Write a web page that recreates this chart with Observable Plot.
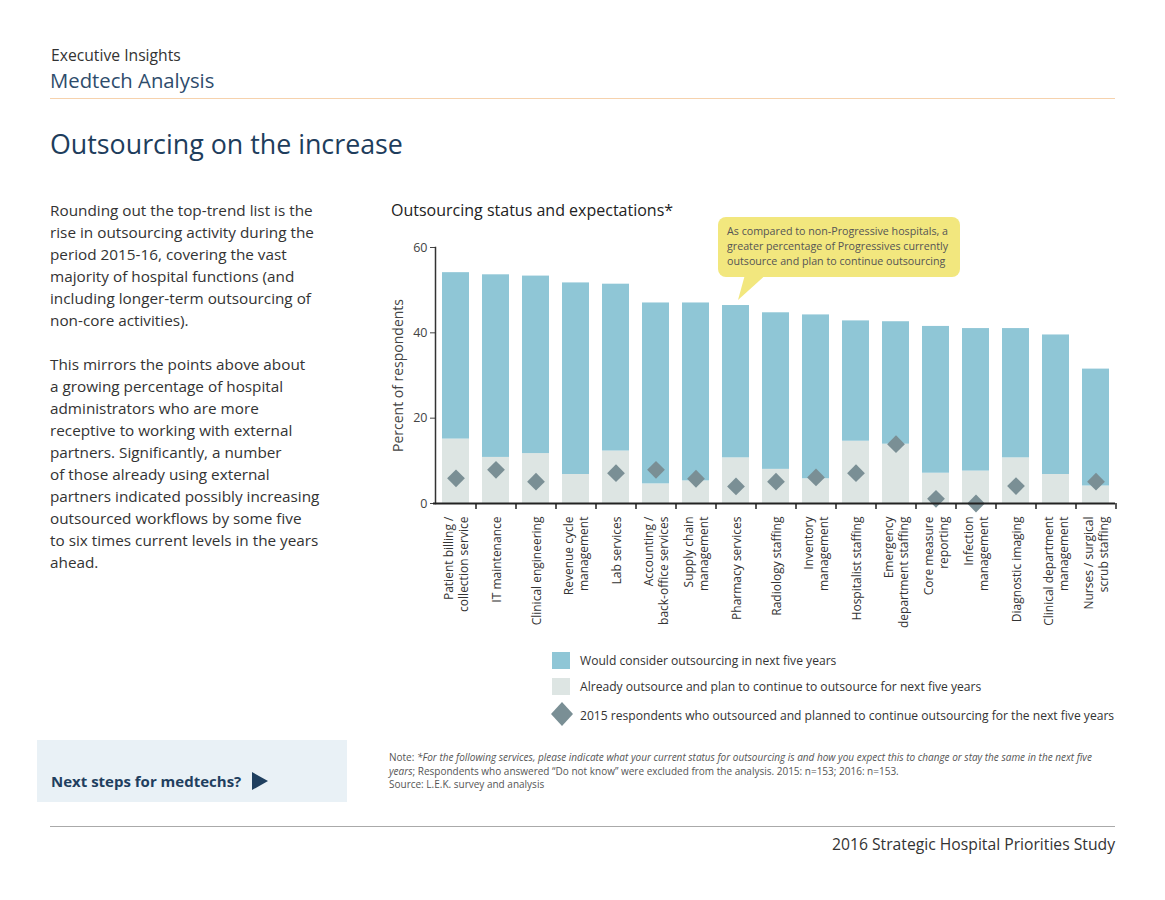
<!DOCTYPE html>
<html>
<head>
<meta charset="utf-8">
<script src="https://cdn.jsdelivr.net/npm/d3@7"></script>
<script src="https://cdn.jsdelivr.net/npm/@observablehq/plot@0.6"></script>
<style>
  html, body { margin: 0; padding: 0; background: #fff; }
  body { width: 1165px; height: 900px; position: relative; overflow: hidden; font-family: "Open Sans", "Noto Sans", sans-serif; color: #333; }
  .abs { position: absolute; white-space: nowrap; }
  #exec { left: 51px; top: 48px; font-size: 15.7px; line-height: 1; color: #333; }
  #medtech { left: 50px; top: 70px; font-size: 20.3px; line-height: 1; color: #2e4c6c; }
  #rule1 { left: 50px; top: 98px; width: 1065px; height: 0; border-top: 1.5px solid #f6d2ad; }
  #title { left: 50px; top: 131px; font-size: 26.8px; line-height: 1; color: #1e3d5c; }
  #body { left: 50px; top: 199px; font-size: 15.3px; line-height: 22px; color: #333; }
  #ctitle { left: 391px; top: 202px; font-size: 16px; line-height: 1; color: #222; }
  #callout { left: 718px; top: 217px; width: 242px; height: 60px; background: #f2e77e; border-radius: 8px; }
  #callout div { position: absolute; left: 9px; top: 7px; font-size: 10.7px; line-height: 15px; color: #555; white-space: nowrap; }
  #pointer { left: 730px; top: 270px; }
  #chart { left: 380px; top: 235px; }
  #legend { left: 550px; top: 650px; font-size: 12.1px; color: #333; }
  .lrow { position: relative; height: 26px; }
  .sw { position: absolute; left: 2px; top: 2px; width: 18px; height: 17px; }
  .lt { position: absolute; left: 30px; top: 3px; line-height: 15px; }
  #nextbox { left: 37px; top: 740px; width: 310px; height: 62px; background: #e9f1f6; }
  #nextbox span { position: absolute; left: 14px; top: 32px; font-size: 15px; font-weight: bold; color: #1f3f5f; line-height: 1; }
  #note { left: 389px; top: 751px; font-size: 10px; line-height: 13.5px; color: #555; }
  #rule2 { left: 50px; top: 826px; width: 1065px; height: 0; border-top: 1px solid #aaa; }
  #footer { right: 50px; top: 837px; font-size: 15.7px; line-height: 1; color: #333; }
</style>
</head>
<body>
<div id="exec" class="abs">Executive Insights</div>
<div id="medtech" class="abs">Medtech Analysis</div>
<div id="rule1" class="abs"></div>
<div id="title" class="abs">Outsourcing on the increase</div>
<div id="body" class="abs">Rounding out the top-trend list is the<br>rise in outsourcing activity during the<br>period 2015-16, covering the vast<br>majority of hospital functions (and<br>including longer-term outsourcing of<br>non-core activities).<br><br>This mirrors the points above about<br>a growing percentage of hospital<br>administrators who are more<br>receptive to working with external<br>partners. Significantly, a number<br>of those already using external<br>partners indicated possibly increasing<br>outsourced workflows by some five<br>to six times current levels in the years<br>ahead.</div>
<div id="ctitle" class="abs">Outsourcing status and expectations*</div>
<div id="chart" class="abs"></div>
<svg id="pointer" class="abs" width="45" height="35"><polygon points="16,1 40,1 8,30" fill="#f2e77e"/></svg>
<div id="callout" class="abs"><div>As compared to non-Progressive hospitals, a<br>greater percentage of Progressives currently<br>outsource and plan to continue outsourcing</div></div>
<div id="legend" class="abs"></div>
<div id="nextbox" class="abs"><span>Next steps for medtechs?<svg width="18" height="18" style="vertical-align:-3px;margin-left:10px"><polygon points="1,0 17,9 1,18" fill="#1f3f5f"/></svg></span></div>
<div id="note" class="abs">Note: <i>*For the following services, please indicate what your current status for outsourcing is and how you expect this to change or stay the same in the next five</i><br><i>years</i>; Respondents who answered “Do not know” were excluded from the analysis. 2015: n=153; 2016: n=153.<br>Source: L.E.K. survey and analysis</div>
<div id="rule2" class="abs"></div>
<div id="footer" class="abs">2016 Strategic Hospital Priorities Study</div>

<script>
// ---- data ----
const categories = [
  "Patient billing /\ncollection service",
  "IT maintenance",
  "Clinical engineering",
  "Revenue cycle\nmanagement",
  "Lab services",
  "Accounting /\nback-office services",
  "Supply chain\nmanagement",
  "Pharmacy services",
  "Radiology staffing",
  "Inventory\nmanagement",
  "Hospitalist staffing",
  "Emergency\ndepartment staffing",
  "Core measure\nreporting",
  "Infection\nmanagement",
  "Diagnostic imaging",
  "Clinical department\nmanagement",
  "Nurses / surgical\nscrub staffing"
];
// Already outsource and plan to continue (2016)
const alreadyOutsource = [15.1, 10.8, 11.7, 6.8, 12.3, 4.6, 5.3, 10.7, 8.0, 5.8, 14.6, 13.9, 7.1, 7.6, 10.7, 6.8, 4.1];
// Would consider outsourcing in next five years (stacked above)
const wouldConsider = [39.0, 42.8, 41.6, 44.9, 39.1, 42.4, 41.7, 35.7, 36.7, 38.4, 28.2, 28.7, 34.4, 33.4, 30.3, 32.7, 27.4];
// 2015 respondents who outsourced and planned to continue
const respondents2015 = [5.9, 7.9, 5.1, null, 7.1, 7.9, 5.8, 4.0, 5.1, 6.1, 7.1, 13.9, 1.1, 0.0, 4.1, null, 5.1];
const yTicks = [0, 20, 40, 60];

const seriesNames = [
  "Would consider outsourcing in next five years",
  "Already outsource and plan to continue to outsource for next five years",
  "2015 respondents who outsourced and planned to continue outsourcing for the next five years"
];
const colors = {consider: "#8fc6d6", already: "#dde5e3", diamond: "#7a8f95"};

// ---- table ----
const stacked = [];
categories.forEach((c, i) => {
  stacked.push({cat: c, series: "already", value: alreadyOutsource[i], order: 0});
  stacked.push({cat: c, series: "consider", value: wouldConsider[i], order: 1});
});
const dots = categories.map((c, i) => ({cat: c, value: respondents2015[i]})).filter(d => d.value != null);

const chart = Plot.plot({
  width: 760,
  height: 408,
  marginLeft: 55,
  marginRight: 25,
  marginTop: 12,
  marginBottom: 140,
  style: {fontFamily: "'Open Sans', 'Noto Sans', sans-serif", fontSize: "12px", color: "#444", background: "transparent"},
  x: {domain: categories, paddingInner: 0.335, paddingOuter: 0.1675, axis: null},
  y: {domain: [0, 60], ticks: yTicks},
  color: {domain: ["already", "consider"], range: [colors.already, colors.consider]},
  marks: [
    Plot.barY(stacked, {x: "cat", y: "value", fill: "series", order: "order"}),
    Plot.dot(dots, {x: "cat", y: "value", symbol: "diamond2", r: 8, fill: colors.diamond, stroke: "none"}),
    Plot.axisY({ticks: yTicks, tickSize: 5, tickPadding: 3, fontSize: 12.5, color: "#444",
      label: "Percent of respondents", labelAnchor: "center", labelArrow: "none", labelOffset: 42}),
    Plot.frame({anchor: "left", stroke: "#333", strokeWidth: 1.5}),
    Plot.ruleY([0], {stroke: "#222", strokeWidth: 2, insetLeft: -2}),
    Plot.ruleX(categories, {x: d => d, dx: 20, y1: 0, y2: 0, insetBottom: -6, stroke: "#222", strokeWidth: 1.5}),
    Plot.text(categories, {x: d => d, y: 0, text: d => d, rotate: -90, textAnchor: "end", dy: 13,
      fontSize: 12, lineHeight: 1.25, fill: "#333"})
  ]
});
document.getElementById("chart").appendChild(chart);
// axis label font size
chart.querySelectorAll("[aria-label='y-axis label'] text, g[aria-label='y-axis label']").forEach(el => el.setAttribute("font-size", 14));

// ---- legend ----
const legend = document.getElementById("legend");
const swatchStyles = [
  `background:${colors.consider}`,
  `background:${colors.already}`,
  null
];
seriesNames.forEach((name, i) => {
  const row = document.createElement("div");
  row.className = "lrow";
  if (swatchStyles[i]) {
    row.innerHTML = `<div class="sw" style="${swatchStyles[i]}"></div><div class="lt">${name}</div>`;
  } else {
    row.innerHTML = `<svg style="position:absolute;left:0;top:-1px" width="24" height="26"><polygon points="12,1 23,13 12,25 1,13" fill="${colors.diamond}"/></svg><div class="lt" style="top:6px">${name}</div>`;
  }
  legend.appendChild(row);
});
</script>
</body>
</html>
